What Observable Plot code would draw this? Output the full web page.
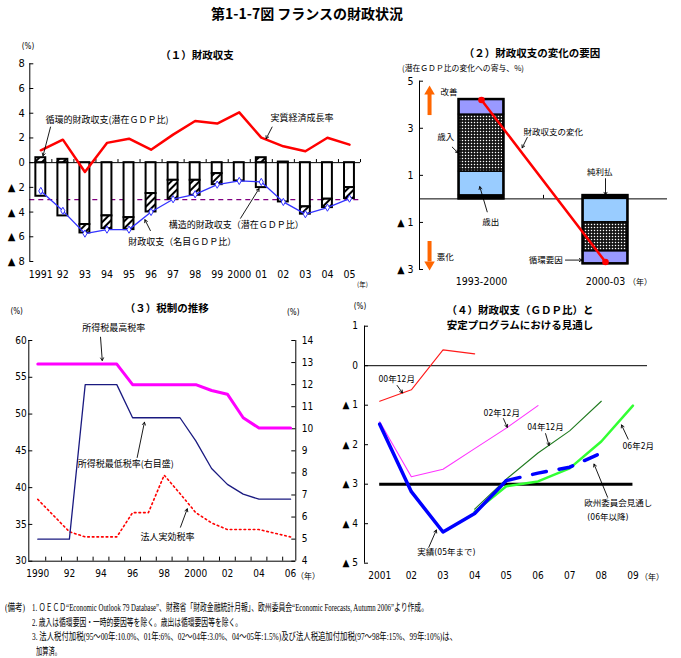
<!DOCTYPE html>
<html>
<head>
<meta charset="utf-8">
<script src="https://cdn.jsdelivr.net/npm/d3@7"></script>
<script src="https://cdn.jsdelivr.net/npm/@observablehq/plot@0.6"></script>
<style>
  body { margin: 0; background: #fff; }
  #root { position: relative; width: 681px; height: 658px; overflow: hidden; background: #fff; color: #000;
          font-family: 'Noto Sans CJK JP', sans-serif; }
  .lbl { position: absolute; white-space: nowrap; line-height: 1; }
  #root svg { position: absolute; }
</style>
</head>
<body>
<svg width="0" height="0" style="position:absolute">
  <defs>
    <pattern id="hatch" patternUnits="userSpaceOnUse" width="5" height="5" patternTransform="rotate(45)">
      <rect width="5" height="5" fill="white"/>
      <line x1="1" y1="0" x2="1" y2="5" stroke="black" stroke-width="2"/>
    </pattern>
    <pattern id="dots" patternUnits="userSpaceOnUse" width="3" height="3">
      <rect width="3" height="3" fill="#151515"/>
      <circle cx="1.5" cy="1.5" r="0.75" fill="white"/>
    </pattern>
  </defs>
</svg>
<div id="root"></div>
<script>
// ---------------- (1) fiscal balance, % of GDP ----------------
const years1 = ["1991","92","93","94","95","96","97","98","99","2000","01","02","03","04","05"];
const structuralBalance = [-2.72,-4.31,-5.01,-4.31,-4.45,-2.50,-1.43,-1.43,-0.89,-1.48,-2.02,-3.18,-3.58,-2.96,-2.02];
const cyclicalBalance   = [0.40,0.27,-0.68,-1.03,-0.97,-1.49,-1.53,-1.21,-0.89,0.00,0.40,0.05,-0.59,-0.68,-0.89];
const fiscalBalance     = [-2.29,-3.90,-5.74,-5.42,-5.42,-3.99,-2.96,-2.56,-1.78,-1.48,-1.56,-3.18,-4.17,-3.64,-2.91];
const realGrowth        = [1.00,1.86,-0.76,1.60,1.94,1.05,2.27,3.37,3.16,4.07,2.02,1.32,0.92,2.02,1.46];
const deficitLimit = -3;
const ticks1 = [8,6,4,2,0,-2,-4,-6,-8];

// ---------------- (2) factors of the change in balance ----------------
const periods = ["1993-2000","2000-03"];
const components = ["純利払","歳出","歳入","循環要因"];
const netInterest    = [0.15, 0.14];
const expenditure    = [1.01, -1.00];
const revenue        = [2.42, -1.23];
const cyclicalFactor = [0.64, -0.53];
const balanceChange  = [4.20, -2.68];
const ticks2 = [5,3,1,-1,-3];

// ---------------- (3) tax rates ----------------
const years3 = [1990,1991,1992,1993,1994,1995,1996,1997,1998,1999,2000,2001,2002,2003,2004,2005,2006];
const topIncomeRate    = [56.8,56.8,56.8,56.8,56.8,56.8,54.0,54.0,54.0,54.0,54.0,53.2,52.7,49.5,48.1,48.1,48.1];
const bottomIncomeRate = [5.0,5.0,5.0,12.0,12.0,12.0,10.5,10.5,10.5,10.5,9.45,8.2,7.48,7.04,6.81,6.81,6.81];
const corporateRate    = [38.4,36.2,34.0,33.3,33.3,33.3,36.6,36.6,41.7,39.2,36.6,35.2,34.3,34.3,34.3,33.8,33.3];
const ticks3L = [30,35,40,45,50,55,60];
const ticks3R = [4,5,6,7,8,9,10,11,12,13,14];

// ---------------- (4) balance vs stability programmes ----------------
const years4 = [2001,2002,2003,2004,2005,2006,2007,2008,2009];
const plan0012 = {years: [2001,2002,2003,2004], values: [-0.90,-0.61,0.40,0.30]};
const plan0212 = {years: [2001,2002,2003,2004,2005,2006], values: [-1.42,-2.81,-2.62,-2.10,-1.58,-1.01]};
const plan0412 = {years: [2004,2005,2006,2007,2008], values: [-3.63,-2.87,-2.21,-1.65,-0.90]};
const plan0602 = {years: [2004,2005,2006,2007,2008,2009], values: [-3.70,-3.05,-2.93,-2.60,-1.92,-1.01]};
const actual   = {years: [2001,2002,2003,2004,2005], values: [-1.48,-3.19,-4.21,-3.74,-2.91]};
const ecForecast = {years: [2005,2006,2007,2008], values: [-2.91,-2.72,-2.57,-2.21]};
const ticks4 = [1,0,-1,-2,-3,-4,-5];

// ---------------- shared helpers ----------------
const NARROW = "'Liberation Sans Narrow','Arial Narrow','DejaVu Sans Condensed','Noto Sans CJK JP',sans-serif";
const JP = "'Noto Sans CJK JP',sans-serif";
const root = document.getElementById("root");
const tri = v => v < 0 ? "▲ " + (-v) : String(v);
const series = s => s.years.map((year, k) => ({year, value: s.values[k]}));
const svgStyle = {background: "transparent", overflow: "visible", fontFamily: NARROW, fontSize: "10px"};

function place(svg, left, top) {
  svg.style.left = left + "px";
  svg.style.top = top + "px";
  root.append(svg);
}

function label(text, x, y, {size = 9, weight = 400, anchor = "start", family = JP, fit = null} = {}) {
  const el = document.createElement("div");
  el.className = "lbl";
  el.textContent = text;
  el.style.fontSize = size + "px";
  el.style.fontWeight = weight;
  el.style.fontFamily = family;
  root.append(el);
  const r = el.getBoundingClientRect();
  const sx = fit ? fit / r.width : 1;
  const w = r.width * sx;
  const dx = anchor === "middle" ? -w / 2 : anchor === "end" ? -w : 0;
  el.style.left = (x + dx) + "px";
  el.style.top = (y - r.height / 2) + "px";
  if (fit) { el.style.transformOrigin = "0 50%"; el.style.transform = `scaleX(${sx})`; }
}

const textMarks = (items, size, family = NARROW) =>
  Plot.text(items, {x: "x", y: "y", text: "t", textAnchor: "start", fontSize: size, fontFamily: family, fill: "black"});
const arrowMarks = items =>
  Plot.arrow(items, {x1: "x1", y1: "y1", x2: "x2", y2: "y2", stroke: "black", strokeWidth: 0.9, headLength: 5});

// ---------------- title ----------------
label("第1-1-7図 フランスの財政状況", 211, 13, {size: 14, weight: 700});

// ================= Panel (1) =================
{
  const rows = years1.map((lab, i) => ({
    i, s: structuralBalance[i], c: cyclicalBalance[i], b: fiscalBalance[i], g: realGrowth[i]
  }));
  const HALF = 0.225;
  const W = 370, H = 250, ML = 29.3, MR = 10;
  const texts = [
    {x: 0.21, y: 3.48, t: "循環的財政収支(潜在ＧＤＰ比)"},
    {x: 10.42, y: 3.64, t: "実質経済成長率"},
    {x: 5.80, y: -5.07, t: "構造的財政収支（潜在ＧＤＰ比）"},
    {x: 3.96, y: -6.42, t: "財政収支（名目ＧＤＰ比）"}
  ];
  const arrows = [
    {x1: 0.44, y1: 2.88, x2: 0.10, y2: 0.55},
    {x1: 10.49, y1: 2.88, x2: 10.22, y2: 1.94},
    {x1: 9.06, y1: -4.50, x2: 9.90, y2: -2.10},
    {x1: 4.97, y1: -5.50, x2: 4.72, y2: -4.62}
  ];
  const svg = Plot.plot({
    width: W, height: H, marginLeft: ML, marginRight: MR, marginTop: 23.3, marginBottom: 29,
    x: {domain: [-0.5, 14.5]},
    y: {domain: [-8, 8]},
    style: svgStyle,
    marks: [
      Plot.ruleY([deficitLimit], {stroke: "#800080", strokeWidth: 1.2, strokeDasharray: "5,4"}),
      Plot.rect(rows, {x1: d => d.i - HALF, x2: d => d.i + HALF, y1: 0, y2: "s",
                       fill: "white", stroke: "black", strokeWidth: 2}),
      Plot.rect(rows.filter(d => d.c !== 0), {x1: d => d.i - HALF, x2: d => d.i + HALF,
                       y1: d => d.c > 0 ? 0 : d.s, y2: d => d.c > 0 ? d.c : d.s + d.c,
                       fill: "url(#hatch)", stroke: "black", strokeWidth: 2}),
      Plot.ruleX([-0.5], {stroke: "black", strokeWidth: 1}),
      Plot.ruleY(ticks1, {insetRight: (W - ML - MR) - 4, stroke: "black"}),
      Plot.ruleY([0], {stroke: "black", strokeWidth: 1}),
      Plot.ruleX(rows, {x: d => d.i + 0.5, y1: 0, y2: 0.25, stroke: "black"}),
      Plot.axisY({ticks: ticks1, tickSize: 0, tickPadding: 5, tickFormat: tri, fontSize: 11, fontFamily: NARROW, label: null}),
      Plot.axisX({ticks: rows.map(d => d.i), tickSize: 0, tickPadding: 9, tickFormat: d => years1[d],
                  fontSize: 10.5, fontFamily: NARROW, label: null}),
      Plot.line(rows, {x: "i", y: "g", stroke: "#ff0000", strokeWidth: 2.5}),
      Plot.line(rows, {x: "i", y: "b", stroke: "#3333ff", strokeWidth: 1.3}),
      Plot.dot(rows, {x: "i", y: "b", r: 2.2, symbol: "diamond", fill: "white", stroke: "#3333ff", strokeWidth: 1}),
      textMarks(texts, 9, JP),
      arrowMarks(arrows)
    ]
  });
  place(svg, 0, 40);
  label("(%)", 28, 46.7, {size: 8, anchor: "middle", family: NARROW});
  label("（１）財政収支", 197, 55, {size: 10.5, weight: 700, anchor: "middle"});
  label("(年)", 357, 284, {size: 6.5, family: JP});
}

// ================= Panel (2) =================
{
  const parts = [netInterest, expenditure, revenue, cyclicalFactor];
  const compFill = {"純利払": "black", "歳出": "#99ccff", "歳入": "url(#dots)", "循環要因": "#9999ff"};
  const segs = [], outline = [];
  periods.forEach((per, p) => {
    let up = 0, down = 0;
    components.forEach((comp, k) => {
      const v = parts[k][p];
      if (v >= 0) { segs.push({p, comp, y1: up, y2: up + v}); up += v; }
      else { segs.push({p, comp, y1: down, y2: down + v}); down += v; }
    });
    outline.push({p, y1: down, y2: up});
  });
  const change = balanceChange.map((v, p) => ({p, v}));
  const HALF = 0.181;
  const W = 301, H = 250, ML = 39, MR = 14;
  const texts = [
    {x: -0.33, y: 4.53, t: "改善"},
    {x: -0.36, y: -2.48, t: "悪化"},
    {x: -0.357, y: 2.62, t: "歳入"},
    {x: 0.339, y: 2.83, t: "財政収支の変化"},
    {x: 0.006, y: -1.00, t: "歳出"},
    {x: 0.851, y: 1.13, t: "純利払"},
    {x: 0.381, y: -2.60, t: "循環要因"}
  ];
  const arrows = [
    {x1: -0.236, y1: 2.20, x2: -0.19, y2: 1.96},
    {x1: 0.369, y1: 2.61, x2: 0.328, y2: 2.17},
    {x1: 0.046, y1: -0.55, x2: -0.014, y2: 0.52},
    {x1: 1.0, y1: 0.86, x2: 1.0, y2: 0.17},
    {x1: 0.677, y1: -2.60, x2: 0.81, y2: -2.60}
  ];
  const orange = "#ff6600";
  const svg = Plot.plot({
    width: W, height: H, marginLeft: ML, marginRight: MR, marginTop: 40.7, marginBottom: 21,
    x: {domain: [-0.5, 1.5]},
    y: {domain: [-3, 5]},
    color: {type: "identity"},
    style: svgStyle,
    marks: [
      Plot.ruleX([-0.5], {stroke: "black"}),
      Plot.ruleY(ticks2, {insetRight: (W - ML - MR) - 4, stroke: "black"}),
      Plot.ruleY([0], {stroke: "black"}),
      Plot.ruleX([0.5], {y1: 0, y2: 0.15, stroke: "black"}),
      Plot.rect(segs, {x1: d => d.p - HALF, x2: d => d.p + HALF, y1: "y1", y2: "y2",
                       fill: d => compFill[d.comp], stroke: "black", strokeWidth: 1.5}),
      Plot.rect(outline, {x1: d => d.p - HALF, x2: d => d.p + HALF, y1: "y1", y2: "y2",
                          fill: "none", stroke: "black", strokeWidth: 2.5}),
      Plot.line(change, {x: "p", y: "v", stroke: "#ff0000", strokeWidth: 2.5}),
      Plot.dot(change, {x: "p", y: "v", r: 3.3, fill: "#ff0000"}),
      Plot.ruleX([{x: -0.419, y1: 3.54, y2: 4.45}], {x: "x", y1: "y1", y2: "y2", stroke: orange, strokeWidth: 4}),
      Plot.dot([{x: -0.419, y: 4.56}], {x: "x", y: "y", symbol: "triangle", r: 3.9, fill: orange}),
      Plot.ruleX([{x: -0.419, y1: -1.81, y2: -2.68}], {x: "x", y1: "y1", y2: "y2", stroke: orange, strokeWidth: 4}),
      Plot.dot([{x: -0.419, y: -2.79}], {x: "x", y: "y", symbol: "triangle", rotate: 180, r: 3.9, fill: orange}),
      Plot.axisY({ticks: ticks2, tickSize: 0, tickPadding: 6, tickFormat: tri, fontSize: 10.5, fontFamily: NARROW, label: null}),
      Plot.axisX({ticks: [0, 1], tickSize: 0, tickPadding: 8, tickFormat: d => periods[d], fontSize: 10.5, fontFamily: NARROW, label: null}),
      textMarks(texts, 8.5, JP),
      arrowMarks(arrows)
    ]
  });
  place(svg, 380, 40);
  label("（２）財政収支の変化の要因", 532, 53.3, {size: 10.5, weight: 700, anchor: "middle"});
  label("(潜在ＧＤＰ比の変化への寄与、%)", 401.7, 68.3, {size: 8, fit: 122});
  label("（年）", 628, 282, {size: 8});
}

// ================= Panel (3) =================
{
  const toLeft = v => 30 + (v - 4) * 3; // right-hand scale (4–14) drawn on the left scale (30–60)
  const rows = years3.map((year, k) => ({
    year, top: topIncomeRate[k], bottom: bottomIncomeRate[k], corp: corporateRate[k]
  }));
  const X0 = 1989.43, X1 = 2006.33;
  const W = 340, H = 300, ML = 28.3, MR = 44.7;
  const FW = W - ML - MR;
  const texts = [
    {x: 1992.81, y: 61.73, t: "所得税最高税率"},
    {x: 1992.53, y: 43.24, t: "所得税最低税率(右目盛)"},
    {x: 1996.50, y: 33.26, t: "法人実効税率"}
  ];
  const arrows = [
    {x1: 1993.97, y1: 60.45, x2: 1994.08, y2: 57.28},
    {x1: 1996.29, y1: 44.10, x2: 1996.75, y2: 48.89},
    {x1: 1999.03, y1: 34.62, x2: 1999.46, y2: 37.12}
  ];
  const svg = Plot.plot({
    width: W, height: H, marginLeft: ML, marginRight: MR, marginTop: 50, marginBottom: 29.3,
    x: {domain: [X0, X1]},
    y: {domain: [30, 60]},
    style: svgStyle,
    marks: [
      Plot.ruleX([X0, X1], {stroke: "black"}),
      Plot.ruleY([30], {stroke: "black"}),
      Plot.ruleY(ticks3L, {insetRight: FW - 4, stroke: "black"}),
      Plot.ruleY(ticks3R.map(toLeft), {insetLeft: FW - 4, stroke: "black"}),
      Plot.ruleX(years3.slice(0, -1), {x: d => d + 0.5, y1: 30, y2: 30.55, stroke: "black"}),
      Plot.axisY({ticks: ticks3L, anchor: "left", tickSize: 0, tickPadding: 2, fontSize: 10, fontFamily: NARROW, label: null}),
      Plot.axisY({ticks: ticks3R.map(toLeft), anchor: "right", tickSize: 0, tickPadding: 6,
                  tickFormat: v => String(Math.round((v - 30) / 3 + 4)), fontSize: 10, fontFamily: NARROW, label: null}),
      Plot.axisX({ticks: years3.filter(y => y % 2 === 0), tickSize: 0, tickPadding: 9,
                  tickFormat: y => (y === 1990 || y === 2000) ? String(y) : String(y).slice(2),
                  fontSize: 10, fontFamily: NARROW, label: null}),
      Plot.line(rows, {x: "year", y: "corp", stroke: "#ff0000", strokeWidth: 1.6, strokeDasharray: "1.6,3"}),
      Plot.line(rows, {x: "year", y: d => toLeft(d.bottom), stroke: "#1a1a80", strokeWidth: 1.3}),
      Plot.line(rows, {x: "year", y: "top", stroke: "#ff00ff", strokeWidth: 3}),
      textMarks(texts, 9, JP),
      arrowMarks(arrows)
    ]
  });
  place(svg, 0, 290);
  label("(%)", 16.7, 311.7, {size: 8, anchor: "middle", family: NARROW});
  label("(%)", 293.3, 312.7, {size: 8, anchor: "middle", family: NARROW});
  label("（３）税制の推移", 166.7, 308.3, {size: 10.5, weight: 700, anchor: "middle"});
  label("（年）", 296, 576, {size: 8});
}

// ================= Panel (4) =================
{
  const X0 = 2000.52, X1 = 2009.46;
  const W = 341, H = 300, ML = 24, MR = 34;
  const FW = W - ML - MR;
  const texts = [
    {x: 2000.96, y: -0.34, t: "00年12月"},
    {x: 2004.28, y: -1.21, t: "02年12月"},
    {x: 2005.66, y: -1.56, t: "04年12月"},
    {x: 2008.67, y: -2.03, t: "06年2月"},
    {x: 2007.46, y: -3.49, t: "欧州委員会見通し"},
    {x: 2007.56, y: -3.84, t: "(06年以降)"},
    {x: 2002.19, y: -4.73, t: "実績(05年まで)"}
  ];
  const arrows = [
    {x1: 2001.55, y1: -0.50, x2: 2001.72, y2: -0.69},
    {x1: 2004.91, y1: -1.34, x2: 2005.03, y2: -1.56},
    {x1: 2006.24, y1: -1.72, x2: 2006.35, y2: -2.02},
    {x1: 2008.85, y1: -1.86, x2: 2008.64, y2: -1.50},
    {x1: 2008.20, y1: -3.33, x2: 2007.77, y2: -2.49},
    {x1: 2002.55, y1: -4.60, x2: 2002.79, y2: -4.16}
  ];
  const svg = Plot.plot({
    width: W, height: H, marginLeft: ML, marginRight: MR, marginTop: 35.7, marginBottom: 27.3,
    x: {domain: [X0, X1]},
    y: {domain: [-5, 1]},
    style: svgStyle,
    marks: [
      Plot.ruleX([X0], {stroke: "black"}),
      Plot.ruleY(ticks4, {insetRight: FW - 4, stroke: "black"}),
      Plot.ruleY([0], {stroke: "black"}),
      Plot.ruleY([deficitLimit], {x1: years4[0], x2: years4[years4.length - 1], stroke: "black", strokeWidth: 3}),
      Plot.axisY({ticks: ticks4, tickSize: 0, tickPadding: 6.5, tickFormat: tri, fontSize: 10, fontFamily: NARROW, label: null}),
      Plot.axisX({ticks: years4, tickSize: 0, tickPadding: 9,
                  tickFormat: y => y === 2001 ? String(y) : String(y).slice(2), fontSize: 10, fontFamily: NARROW, label: null}),
      Plot.line(series(plan0012), {x: "year", y: "value", stroke: "#ff1a1a", strokeWidth: 1.1}),
      Plot.line(series(plan0212), {x: "year", y: "value", stroke: "#ff33ff", strokeWidth: 1.1}),
      Plot.line(series(plan0412), {x: "year", y: "value", stroke: "#1f7a1f", strokeWidth: 1.1}),
      Plot.line(series(plan0602), {x: "year", y: "value", stroke: "#33ff33", strokeWidth: 2.5}),
      Plot.line(series(ecForecast), {x: "year", y: "value", stroke: "#0000ff", strokeWidth: 3.5, strokeDasharray: "14,13"}),
      Plot.line(series(actual), {x: "year", y: "value", stroke: "#0000ff", strokeWidth: 3.5}),
      textMarks(texts, 8.5, NARROW),
      arrowMarks(arrows)
    ]
  });
  place(svg, 340, 290);
  label("(%)", 360, 307.3, {size: 8, anchor: "middle", family: NARROW});
  label("（４）財政収支（ＧＤＰ比）と", 520, 310, {size: 10.5, weight: 700, anchor: "middle"});
  label("安定プログラムにおける見通し", 520, 325, {size: 10.5, weight: 700, anchor: "middle"});
  label("（年）", 640, 576.7, {size: 8});
}

// ---------------- notes ----------------
const NOTE = "'Liberation Serif','Noto Sans CJK JP',serif";
label("(備考)", 5, 608.3, {size: 10, family: NOTE, fit: 20});
label("1. ＯＥＣＤ“Economic Outlook 79 Database”、財務省「財政金融統計月報」、欧州委員会“Economic Forecasts, Autumn 2006”より作成。", 31.7, 608.3, {size: 10, family: NOTE, fit: 396});
label("2. 歳入は循環要因・一時的要因等を除く。歳出は循環要因等を除く。", 31.7, 623.3, {size: 10, family: NOTE, fit: 210});
label("3. 法人税付加税(95～00年:10.0%、01年:6%、02～04年:3.0%、04～05年:1.5%)及び法人税追加付加税(97～98年:15%、99年:10%)は、", 31.7, 637.3, {size: 10, family: NOTE, fit: 425});
label("加算済。", 36, 651.7, {size: 10, family: NOTE, fit: 25});
</script>
</body>
</html>
